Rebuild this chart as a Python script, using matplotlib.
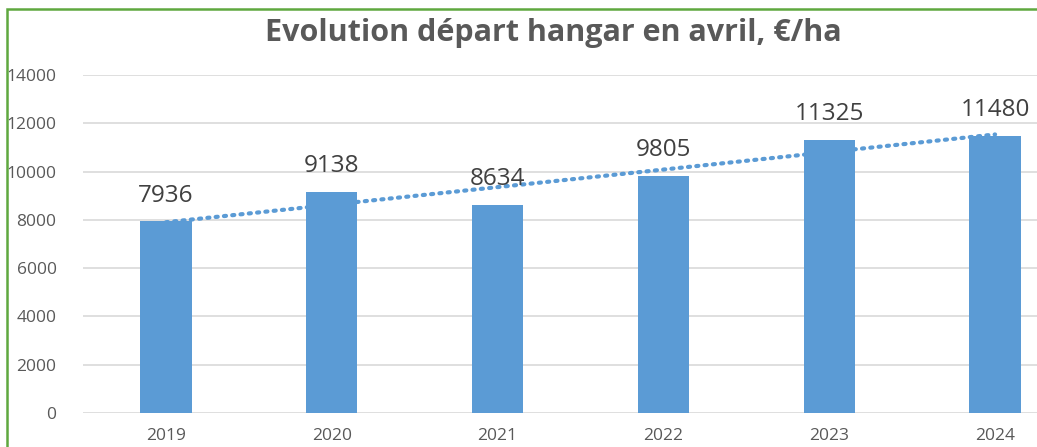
import numpy as np
import matplotlib.pyplot as plt
from matplotlib.patches import Rectangle

plt.rcParams["font.family"] = ["Open Sans", "DejaVu Sans"]

# Data
years = ["2019", "2020", "2021", "2022", "2023", "2024"]
prices = [7936, 9138, 8634, 9805, 11325, 11480]
yticks = [0, 2000, 4000, 6000, 8000, 10000, 12000, 14000]

bar_color = "#5B9BD5"
text_color = "#595959"

fig = plt.figure(figsize=(10.37, 4.47), dpi=100)
# axes runs past the right edge, like the cropped original
ax = fig.add_axes([83 / 1037, 34 / 447, 995 / 1037, 338 / 447])

x = np.arange(len(years))
ax.bar(x, prices, width=0.31, color=bar_color, zorder=3)

# linear trend line (behind the bars)
slope, intercept = np.polyfit(x, prices, 1)
ax.plot(x, slope * x + intercept, color=bar_color, linewidth=3.0,
        linestyle=(0, (0.5, 1.5)), dash_capstyle="round", zorder=2)

for xi, v in zip(x, prices):
    ax.annotate(str(v), (xi, v), xytext=(0, 10), textcoords="offset points",
                ha="center", va="bottom", fontsize=17.5, color="#404040", zorder=4)

ax.set_xlim(-0.5, len(years) - 0.5)
ax.set_ylim(0, 14000)
ax.set_yticks(yticks)
ax.set_xticks(x)
ax.set_xticklabels(years)
ax.tick_params(axis="both", length=0, labelsize=12.5, labelcolor=text_color)
ax.tick_params(axis="y", pad=19)
ax.tick_params(axis="x", pad=11)
ax.grid(axis="y", color="#D9D9D9", linewidth=1.2, zorder=0)
ax.set_axisbelow(True)
for s in ax.spines.values():
    s.set_visible(False)

fig.text(553 / 1037, 1 - 33 / 447, "Evolution départ hangar en avril, €/ha",
         ha="center", va="center", fontsize=22, fontweight="bold", color=text_color)

# green frame around the chart
fig.patches.append(Rectangle((7 / 1037, -0.05), 1.1, 1 - 9 / 447 + 0.05,
                             transform=fig.transFigure, fill=False,
                             edgecolor="#5FA83F", linewidth=1.8))

fig.savefig("out.png", dpi=100)
